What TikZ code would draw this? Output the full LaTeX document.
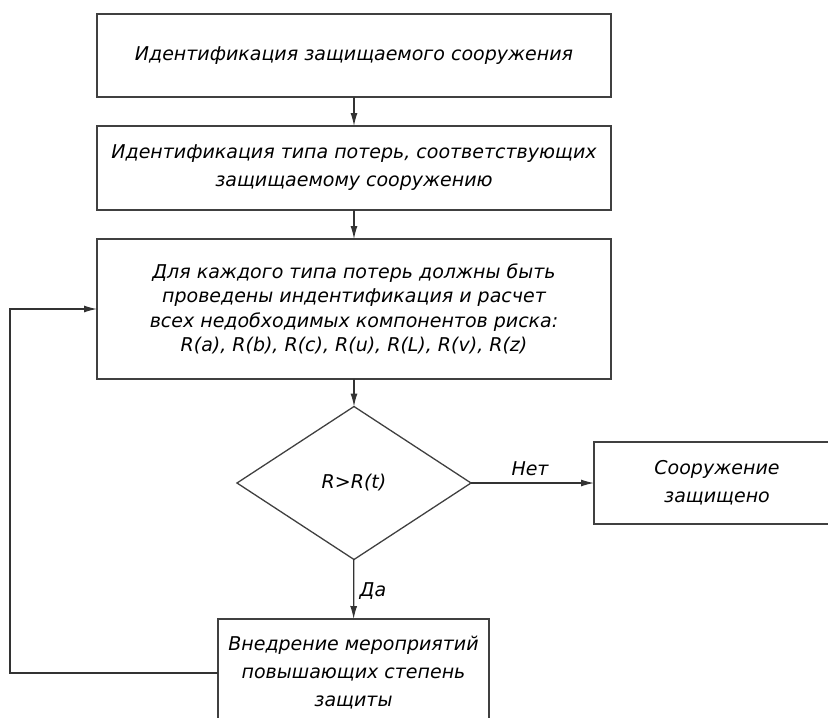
\documentclass[tikz,border=0pt]{standalone}
\usepackage{fontspec}
\setmainfont{DejaVu Sans}[UprightFont=* Oblique]
\usetikzlibrary{shapes.geometric,arrows.meta}

\begin{document}
\begin{tikzpicture}[x=1pt, y=-1pt, >={Latex[length=13pt,width=7pt]},
    every node/.style={font=\fontsize{19}{28}\selectfont, align=center, inner sep=0pt, outer sep=0pt},
    box/.style={draw=black!75, rectangle, line width=1.3pt},
    link/.style={->, draw=black!80, line width=1.2pt},
    lbl/.style={draw=none}]
    \useasboundingbox (0, 0) rectangle (828, 718);
    \clip (0, 0) rectangle (828, 718);

    % Nodes
    \node[box, minimum width=514pt, minimum height=83pt] at (354, 55.5) (ident) {Идентификация защищаемого сооружения};
    \node[box, minimum width=514pt, minimum height=84pt] at (354, 168) (loss) {Идентификация типа потерь, соответствующих\\защищаемому сооружению};
    \node[box, minimum width=514pt, minimum height=140pt, font=\fontsize{19}{24.5}\selectfont] at (354, 309) (risk) {Для каждого типа потерь должны быть\\проведены индентификация и расчет\\всех недобходимых компонентов риска:\\R(a), R(b), R(c), R(u), R(L), R(v), R(z)};
    \node[box, diamond, minimum width=234pt, minimum height=153pt] at (354, 483) (test) {R>R(t)};
    \node[box, minimum width=246pt, minimum height=82pt] at (717, 483) (safe) {Сооружение\\защищено};
    \node[box, minimum width=271pt, minimum height=108pt] at (353.5, 673) (act) {Внедрение мероприятий\\повышающих степень\\защиты};
    \coordinate (back) at (10, 673);

    % Edges
    \draw[link] (ident) -- (loss);
    \draw[link] (loss) -- (risk);
    \draw[link] (risk) -- (test);
    \draw[link] (test) -- (safe)
        node[lbl, pos=0.48, above=7pt] {Нет};
    \draw[link] (test) -- (act)
        node[lbl, midway, right=6pt, yshift=-2pt] {Да};
    \draw[link] (act.west) -- (back) |- (risk.west);
\end{tikzpicture}
\end{document}
